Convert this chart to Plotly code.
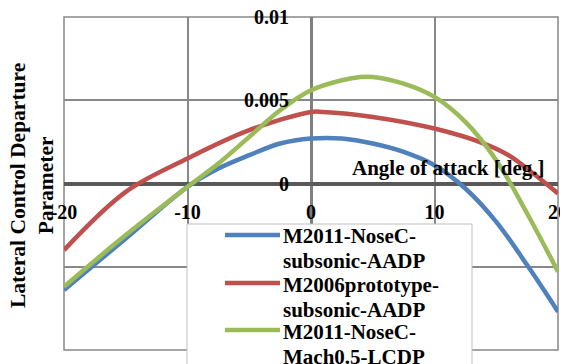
import plotly.graph_objects as go

# Angle of attack [deg.] and departure parameter values
aoa_blue = [-20, -15, -10, -7.5, -5, -2.5, 0, 2.5, 5, 7.5, 10, 12.5, 15, 17.5, 20]
blue = [-0.0064, -0.0033, -0.0002, 0.0009, 0.0017, 0.0024, 0.0027, 0.0027, 0.0024, 0.0019, 0.0011, -0.0003, -0.0023, -0.0049, -0.0077]

aoa_red = [-20, -15, -10, -5, 0, 1, 5, 10, 14, 16, 18, 20]
red = [-0.0040, -0.0005, 0.0015, 0.0032, 0.0043, 0.0043, 0.0040, 0.0033, 0.0024, 0.0017, 0.0006, -0.0006]

aoa_green = [-20, -15, -10, -7.5, -5, -2.5, 0, 2.5, 4, 5, 7.5, 10, 12.5, 15, 17.5, 20]
green = [-0.0062, -0.0031, -0.0002, 0.0012, 0.0028, 0.0044, 0.0056, 0.0062, 0.0064, 0.0064, 0.0060, 0.0052, 0.0037, 0.0014, -0.0018, -0.0053]

names = [["M2011-NoseC-", "subsonic-AADP"],
         ["M2006prototype-", "subsonic-AADP"],
         ["M2011-NoseC-", "Mach0.5-LCDP"]]
colors = ["#4F81BD", "#C0504D", "#9BBB59"]

x_ticks = [-20, -10, 0, 10, 20]
x_ticktext = ["-20", "-10", "0", "10", "20"]
y_ticks = [-0.01, -0.005, 0, 0.005, 0.01]
y_ticktext = ["", "", "0", "0.005", "0.01"]

FONT = "Liberation Serif"

fig = go.Figure()
for xs, ys, nm, c in [(aoa_blue, blue, names[0], colors[0]),
                      (aoa_red, red, names[1], colors[1]),
                      (aoa_green, green, names[2], colors[2])]:
    fig.add_trace(go.Scatter(x=xs, y=ys, name=" ".join(nm), mode="lines", showlegend=False,
                             line=dict(color=c, width=4.5, shape="spline", smoothing=1)))

OFF = 8  # page body offset
W, H = 568 - OFF, 364 - OFF
# plot area in page pixels: x 64..558, y 17..350
L, R, T, B = 64 - OFF, 568 - 558, 17 - OFF, 364 - 350
pw, ph = W - L - R, H - T - B

def px(x):
    return (x - OFF - L) / pw

def py(y):
    return (H - B - (y - OFF)) / ph

annotations = [
    dict(text="<b>Lateral Control Departure<br>Parameter</b>", xref="paper", yref="paper",
         x=px(32), y=py(186), xanchor="center", yanchor="middle", textangle=-90,
         showarrow=False, font=dict(family=FONT, size=21.5, color="black")),
    dict(text="<b>Angle of attack [deg.]</b>", xref="paper", yref="paper",
         x=px(448), y=py(168), xanchor="center", yanchor="middle",
         showarrow=False, font=dict(family=FONT, size=21, color="black")),
]
shapes = [
    dict(type="rect", xref="paper", yref="paper", x0=0, x1=1, y0=0, y1=1,
         line=dict(color="#888888", width=1.5), layer="below"),
    dict(type="rect", xref="paper", yref="paper", x0=px(187), x1=px(472), y0=py(224), y1=py(375),
         line=dict(color="#bfbfbf", width=1), fillcolor="white", layer="above"),
]
# legend entries (symbol + two text lines each)
sym_y = [235, 283, 330]
text_y = [(235, 260), (284, 309), (331, 356)]
for i in range(3):
    shapes.append(dict(type="line", xref="paper", yref="paper", x0=px(225), x1=px(280),
                       y0=py(sym_y[i]), y1=py(sym_y[i]),
                       line=dict(color=colors[i], width=4.5), layer="above"))
    for j in range(2):
        annotations.append(dict(text="<b>%s</b>" % names[i][j], xref="paper", yref="paper",
                                x=px(281), y=py(text_y[i][j] + 1), xanchor="left", yanchor="middle",
                                showarrow=False, font=dict(family=FONT, size=21, color="black")))

fig.update_layout(
    width=W, height=H,
    margin=dict(l=L, r=R, t=T, b=B, autoexpand=False),
    paper_bgcolor="white", plot_bgcolor="white",
    font=dict(family=FONT, color="black", size=20),
    xaxis=dict(range=[-20, 20], tickvals=x_ticks, ticktext=["<b>%s</b>" % t for t in x_ticktext],
               showgrid=True, gridcolor="#888888", gridwidth=1.5,
               zeroline=True, zerolinecolor="#7f7f7f", zerolinewidth=3,
               anchor="free", position=0.5, showline=False, ticks="",
               ticklabelstandoff=14, ticklabeloverflow="allow",
               tickfont=dict(family=FONT, size=20, color="black")),
    yaxis=dict(range=[-0.01, 0.01], tickvals=y_ticks, ticktext=["<b>%s</b>" % t if t else "" for t in y_ticktext],
               showgrid=True, gridcolor="#888888", gridwidth=1.5,
               zeroline=True, zerolinecolor="#595959", zerolinewidth=3.5,
               anchor="free", position=0.5, showline=False, ticks="",
               ticklabelstandoff=22, ticklabeloverflow="allow",
               tickfont=dict(family=FONT, size=20, color="black")),
    showlegend=False,
    shapes=shapes,
    annotations=annotations,
)

fig.write_html("out.html")
